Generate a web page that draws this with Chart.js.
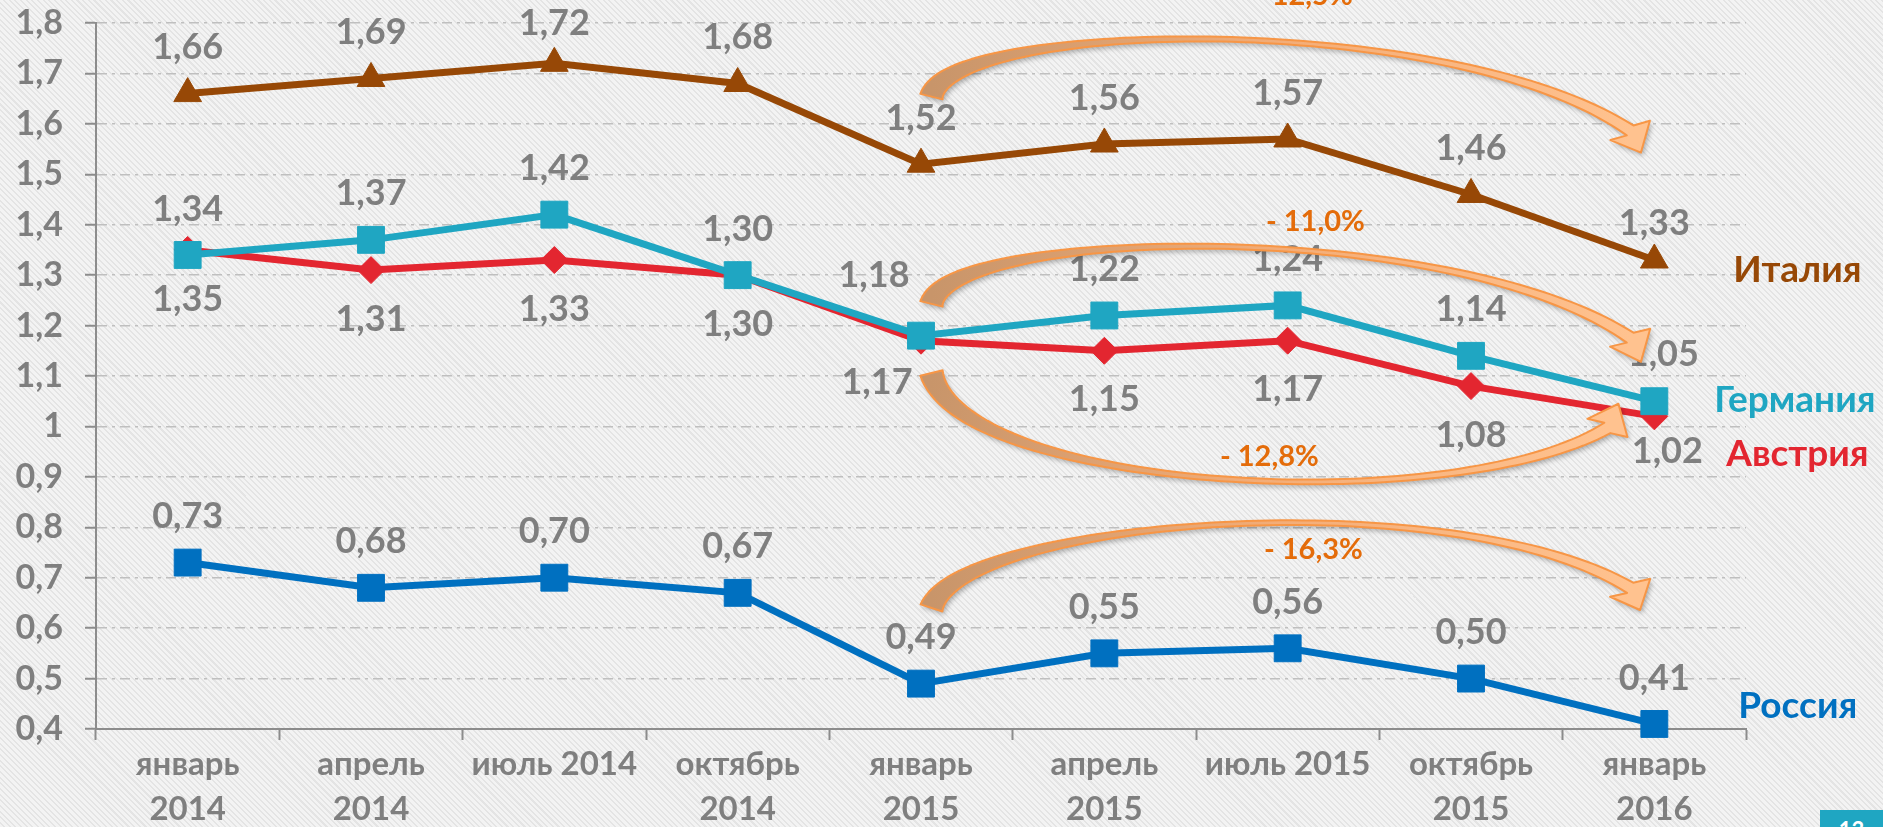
<!DOCTYPE html>
<html>
<head>
<meta charset="utf-8">
<script src="https://cdn.jsdelivr.net/npm/chart.js@4.4.1/dist/chart.umd.min.js"></script>
<style>
  html, body { margin: 0; padding: 0; }
  body {
    width: 1883px; height: 827px; overflow: hidden; position: relative;
    background: repeating-linear-gradient(45deg, #f3f3f3 0px, #f3f3f3 2.5px, #e4e4e4 2.5px, #e4e4e4 4px);
  }
  #wrap { position: absolute; left: 0; top: 0; width: 1883px; height: 827px; }
  #slideNo {
    position: absolute; left: 1820px; top: 810px; width: 63px; height: 17px;
    background: #1fa6c2; overflow: hidden; color: #fff;
    font: bold 22px Lato, sans-serif; text-align: center; line-height: 40px;
  }
</style>
</head>
<body>
<div id="wrap"><canvas id="chart"></canvas></div>
<div id="slideNo">13</div>
<script>
// data
const categories = [['январь', '2014'], ['апрель', '2014'], 'июль 2014', ['октябрь', '2014'],
  ['январь', '2015'], ['апрель', '2015'], 'июль 2015', ['октябрь', '2015'], ['январь', '2016']];
const italy = [1.66, 1.69, 1.72, 1.68, 1.52, 1.56, 1.57, 1.46, 1.33];
const germany = [1.34, 1.37, 1.42, 1.30, 1.18, 1.22, 1.24, 1.14, 1.05];
const austria = [1.35, 1.31, 1.33, 1.30, 1.17, 1.15, 1.17, 1.08, 1.02];
const russia = [0.73, 0.68, 0.70, 0.67, 0.49, 0.55, 0.56, 0.50, 0.41];
const seriesNames = ['Италия', 'Германия', 'Австрия', 'Россия'];
const changeLabels = ['- 12,5%', '- 11,0%', '- 12,8%', '- 16,3%'];

const colors = ['#974806', '#1fa6c2', '#e32630', '#0070c0'];
const grey = '#7f7f7f';
const axisGrey = '#8c8c8c';

// data label placement: -1 above the point, 1 below; a few labels moved by hand
const labelSide = [-1, -1, 1, -1];
const labelNudge = { '0-2': [0, 6], '0-8': [0, 9], '1-4': [-47, -14], '1-8': [9, -1], '2-4': [-44, -7], '2-8': [13, -14] };
// series names next to the last point
const nameOffset = [[79, 10], [60, -1], [72, 38], [84, -18]];

// curved arrows, in (category index, value) units: start, c1, c2, end of shaft, tip
const arrows = [
  [[4.057, 1.654], [4.161, 1.807], [6.887, 1.827], [7.868, 1.587], [7.927, 1.543]],
  [[4.057, 1.243], [4.161, 1.396], [6.887, 1.416], [7.868, 1.176], [7.927, 1.128]],
  [[4.057, 1.106], [4.215, 0.874], [6.887, 0.815], [7.744, 0.997], [7.804, 1.045]],
  [[4.057, 0.640], [4.215, 0.815], [6.887, 0.894], [7.868, 0.680], [7.922, 0.636]]
];
const changePos = [[6.085, 1.855], [6.151, 1.406], [5.900, 0.940], [6.140, 0.755]];

const font = (size) => 'bold ' + size + 'px Lato, sans-serif';

function drawArrow(ctx, p) {
  const [S, C1, C2, E, T] = p;
  const N = 80;
  const left = [], right = [];
  let nEnd = null;
  for (let i = 0; i <= N; i++) {
    const t = i / N, u = 1 - t;
    const x = u * u * u * S.x + 3 * u * u * t * C1.x + 3 * u * t * t * C2.x + t * t * t * E.x;
    const y = u * u * u * S.y + 3 * u * u * t * C1.y + 3 * u * t * t * C2.y + t * t * t * E.y;
    const dx = 3 * u * u * (C1.x - S.x) + 6 * u * t * (C2.x - C1.x) + 3 * t * t * (E.x - C2.x);
    const dy = 3 * u * u * (C1.y - S.y) + 6 * u * t * (C2.y - C1.y) + 3 * t * t * (E.y - C2.y);
    const len = Math.hypot(dx, dy) || 1;
    const nx = -dy / len, ny = dx / len;
    const w = (3 + 20 * Math.pow(u, 4) + 9 * Math.pow(t, 4)) / 2;
    left.push([x + nx * w, y + ny * w]);
    right.push([x - nx * w, y - ny * w]);
    if (i === N) nEnd = [nx, ny];
  }
  const hx = T.x - E.x, hy = T.y - E.y, hl = Math.hypot(hx, hy);
  let px = -hy / hl, py = hx / hl;
  if (px * nEnd[0] + py * nEnd[1] < 0) { px = -px; py = -py; }
  const hw = 22;

  ctx.save();
  ctx.beginPath();
  ctx.moveTo(left[0][0], left[0][1]);
  left.forEach(q => ctx.lineTo(q[0], q[1]));
  ctx.lineTo(E.x + px * hw, E.y + py * hw);
  ctx.lineTo(T.x, T.y);
  ctx.lineTo(E.x - px * hw, E.y - py * hw);
  for (let i = right.length - 1; i >= 0; i--) ctx.lineTo(right[i][0], right[i][1]);
  ctx.closePath();
  const g = ctx.createLinearGradient(S.x, S.y, E.x, E.y);
  g.addColorStop(0, '#c8956a');
  g.addColorStop(0.5, '#f3ad78');
  g.addColorStop(1, '#ffc28f');
  ctx.shadowColor = 'rgba(0,0,0,0.3)';
  ctx.shadowBlur = 5;
  ctx.shadowOffsetX = 2;
  ctx.shadowOffsetY = 3;
  ctx.fillStyle = g;
  ctx.fill();
  ctx.shadowColor = 'transparent';
  ctx.strokeStyle = '#f79646';
  ctx.lineWidth = 2;
  ctx.lineJoin = 'round';
  ctx.stroke();
  ctx.restore();
}

const annotations = {
  id: 'annotations',
  afterDatasetsDraw(chart) {
    const ctx = chart.ctx;
    const xs = chart.scales.x, ys = chart.scales.y;
    const toPx = (q) => ({ x: xs.getPixelForValue(q[0]), y: ys.getPixelForValue(q[1]) });

    // value labels
    ctx.save();
    ctx.font = font(36);
    ctx.fillStyle = grey;
    ctx.textAlign = 'center';
    ctx.textBaseline = 'middle';
    chart.data.datasets.forEach((ds, di) => {
      const meta = chart.getDatasetMeta(di);
      meta.data.forEach((pt, i) => {
        const nudge = labelNudge[di + '-' + i] || [0, 0];
        const dy = labelSide[di] < 0 ? -46 : 49;
        ctx.fillText(ds.data[i].toFixed(2).replace('.', ','), pt.x + nudge[0], pt.y + dy + nudge[1]);
      });
    });

    // series names
    ctx.font = font(37);
    ctx.textAlign = 'left';
    chart.data.datasets.forEach((ds, di) => {
      const meta = chart.getDatasetMeta(di);
      const last = meta.data[meta.data.length - 1];
      ctx.fillStyle = colors[di];
      ctx.fillText(seriesNames[di], last.x + nameOffset[di][0], last.y + nameOffset[di][1]);
    });
    ctx.restore();

    // arrows and percentages
    arrows.forEach(a => drawArrow(ctx, a.map(toPx)));
    ctx.save();
    ctx.font = font(29);
    ctx.fillStyle = '#e46c0a';
    ctx.textAlign = 'center';
    ctx.textBaseline = 'middle';
    changePos.forEach((c, i) => {
      const p = toPx(c);
      ctx.fillText(changeLabels[i], p.x, p.y);
    });
    ctx.restore();
  }
};

const mkSet = (label, data, color, style, radius) => ({
  label: label,
  data: data,
  borderColor: color,
  backgroundColor: color,
  borderWidth: 7,
  tension: 0,
  pointStyle: style,
  pointRadius: radius,
  pointBorderWidth: 1,
  pointBorderColor: color,
  pointBackgroundColor: color,
  clip: false
});

new Chart(document.getElementById('chart'), {
  type: 'line',
  data: {
    labels: categories,
    datasets: [
      mkSet(seriesNames[0], italy, colors[0], 'triangle', 16),
      mkSet(seriesNames[1], germany, colors[1], 'rect', 19),
      mkSet(seriesNames[2], austria, colors[2], 'rectRot', 13.5),
      mkSet(seriesNames[3], russia, colors[3], 'rect', 19)
    ]
  },
  options: {
    responsive: true,
    maintainAspectRatio: false,
    animation: false,
    layout: { padding: { top: 23, right: 137, left: 0, bottom: 0 } },
    plugins: { legend: { display: false }, tooltip: { enabled: false } },
    scales: {
      x: {
        offset: true,
        grid: { offset: true, drawOnChartArea: false, tickLength: 11, tickColor: axisGrey, tickWidth: 2 },
        border: { color: axisGrey, width: 2 },
        ticks: {
          color: grey, padding: 2, maxRotation: 0, autoSkip: false,
          font: { family: 'Lato', weight: 'bold', size: 33, lineHeight: 1.36 }
        },
        afterFit: (s) => { s.height = 98; s.paddingLeft = 0; s.paddingRight = 0; }
      },
      y: {
        min: 0.4,
        max: 1.8,
        ticks: {
          stepSize: 0.1,
          color: grey,
          padding: 22,
          font: { family: 'Lato', weight: 'bold', size: 34 },
          callback: (v) => String(+(+v).toFixed(1)).replace('.', ',')
        },
        grid: { color: '#bfbfbf', lineWidth: 1.5, tickLength: 11, tickColor: axisGrey, tickWidth: 2, tickBorderDash: [] },
        border: { color: axisGrey, width: 2, dash: [10, 5, 3, 5] },
        afterFit: (s) => { s.width = 96; s.paddingTop = 0; s.paddingBottom = 0; }
      }
    }
  },
  plugins: [annotations]
});
</script>
</body>
</html>
